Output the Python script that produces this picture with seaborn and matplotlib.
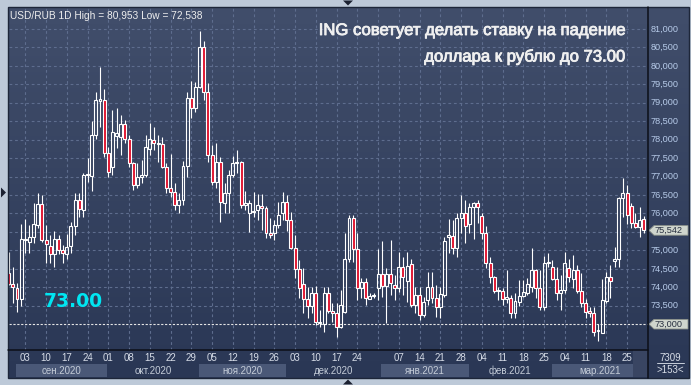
import numpy as np
import pandas as pd
import seaborn as sns
import matplotlib.pyplot as plt
import matplotlib.patheffects as pe
from matplotlib.patches import Rectangle, Polygon
from matplotlib.lines import Line2D
from matplotlib.transforms import blended_transform_factory as blend

W, H = 691, 385

# daily bars, USD/RUB
dates = pd.bdate_range("2020-08-28", "2021-03-31")
opens = [74.40, 74.08, 73.99, 73.67, 75.28, 75.24, 75.35, 75.69, 76.27, 75.28,
         75.13, 74.89, 75.32, 75.01, 74.89, 75.12, 75.66, 76.37, 76.09, 77.03,
         77.02, 78.13, 79.05, 79.08, 77.63, 77.25, 78.10, 78.08, 78.43, 78.01,
         77.36, 76.77, 77.00, 77.05, 77.76, 77.99, 77.88, 77.87, 77.27, 76.70,
         76.59, 76.23, 76.37, 77.30, 79.12, 78.87, 79.44, 80.50, 79.30, 77.58,
         76.86, 77.40, 76.29, 76.55, 77.04, 77.36, 77.40, 76.23, 76.02, 76.03,
         76.09, 76.21, 76.14, 75.46, 75.46, 75.69, 76.00, 76.32, 75.82, 75.07,
         74.49, 74.08, 73.67, 73.49, 73.84, 73.02, 73.00, 73.85, 73.36, 73.29,
         72.93, 73.34, 74.78, 75.87, 75.03, 73.97, 74.15, 73.69, 73.76, 73.97,
         74.36, 74.03, 74.36, 74.06, 73.97, 74.56, 74.18, 74.62, 73.52, 73.78,
         73.25, 73.66, 74.02, 73.70, 73.47, 73.79, 75.37, 75.39, 75.07, 75.87,
         76.00, 75.71, 76.17, 76.28, 75.93, 75.46, 74.67, 74.27, 73.90, 73.91,
         73.69, 73.70, 73.29, 73.61, 73.76, 73.85, 74.00, 74.47, 73.97, 73.46,
         74.65, 74.56, 74.22, 73.85, 73.93, 74.53, 74.22, 74.47, 73.91, 73.57,
         73.36, 73.31, 72.81, 72.77, 73.63, 74.29, 74.72, 74.76, 76.41, 76.56,
         76.19, 75.73, 75.64, 75.84]
highs = [74.96, 74.56, 74.11, 75.71, 75.84, 75.69, 76.28, 76.56, 76.50, 75.69,
         75.42, 75.53, 75.42, 75.15, 75.44, 75.78, 76.55, 76.55, 77.09, 77.51,
         78.51, 79.30, 79.98, 79.37, 77.81, 78.80, 78.85, 78.67, 78.53, 78.13,
         77.40, 77.36, 77.45, 78.13, 78.44, 78.35, 78.13, 78.08, 77.36, 77.61,
         76.84, 76.55, 77.41, 79.30, 79.60, 79.57, 80.95, 80.68, 79.53, 77.86,
         77.90, 77.54, 76.82, 77.18, 77.56, 77.72, 77.42, 76.61, 76.37, 76.59,
         76.53, 76.53, 76.19, 75.87, 75.82, 76.32, 76.57, 76.50, 76.05, 75.42,
         74.74, 74.51, 74.02, 74.02, 74.04, 73.38, 74.02, 74.02, 73.57, 73.57,
         73.93, 75.46, 75.96, 75.96, 75.46, 74.24, 74.24, 73.84, 73.84, 75.05,
         75.26, 74.51, 75.28, 74.33, 74.97, 74.81, 74.97, 74.76, 74.02, 74.02,
         73.75, 74.42, 74.42, 74.06, 74.02, 75.37, 75.84, 75.82, 76.00, 76.50,
         76.37, 76.28, 76.32, 76.37, 76.02, 75.66, 74.81, 74.30, 74.02, 73.97,
         74.47, 73.79, 73.84, 74.20, 74.20, 74.24, 75.06, 74.49, 74.47, 74.85,
         74.92, 74.74, 74.56, 74.33, 74.97, 74.78, 74.88, 74.60, 74.38, 73.67,
         73.47, 73.47, 73.00, 74.22, 74.42, 74.60, 75.10, 76.46, 76.97, 76.77,
         76.28, 76.00, 76.17, 75.93]
lows = [74.05, 73.58, 73.34, 73.49, 74.92, 74.92, 75.21, 75.60, 75.24, 74.67,
        74.67, 74.56, 74.89, 74.65, 74.78, 74.92, 75.42, 75.91, 75.91, 76.86,
        76.62, 78.02, 78.35, 77.54, 77.00, 77.04, 77.77, 77.58, 77.90, 77.27,
        76.64, 76.68, 76.82, 77.00, 77.58, 77.72, 77.40, 77.22, 76.56, 76.46,
        76.09, 76.00, 76.23, 77.00, 78.58, 78.76, 79.39, 79.08, 77.40, 76.77,
        76.70, 75.78, 76.02, 76.02, 76.98, 77.11, 76.14, 76.09, 75.51, 75.91,
        75.82, 75.55, 75.33, 75.33, 75.28, 75.60, 75.82, 75.53, 75.03, 74.24,
        73.70, 73.29, 73.16, 73.29, 72.98, 72.93, 72.80, 73.29, 73.07, 72.66,
        72.89, 73.29, 74.69, 74.69, 73.66, 73.70, 73.52, 73.67, 73.70, 73.66,
        73.75, 73.04, 73.79, 73.66, 73.88, 73.79, 73.61, 73.47, 73.29, 73.11,
        73.20, 73.52, 73.57, 73.20, 73.18, 73.75, 74.92, 74.90, 74.81, 75.46,
        75.21, 75.46, 75.30, 75.73, 75.30, 74.51, 74.11, 73.85, 73.66, 73.52,
        73.57, 73.16, 73.16, 73.49, 73.75, 73.79, 73.88, 73.70, 73.38, 73.38,
        74.54, 74.20, 73.66, 73.38, 73.85, 74.15, 73.97, 73.84, 73.46, 73.16,
        73.19, 72.68, 72.54, 72.75, 73.57, 73.72, 74.54, 74.54, 75.91, 75.71,
        75.60, 75.60, 75.37, 75.46]
closes = [74.10, 74.00, 73.67, 75.30, 75.30, 75.35, 75.71, 76.27, 75.28, 75.16,
          74.89, 75.32, 75.01, 74.92, 75.10, 75.66, 76.37, 76.11, 77.04, 77.07,
          78.13, 79.08, 79.10, 77.63, 77.13, 78.20, 78.17, 78.43, 78.01, 77.36,
          76.77, 77.00, 77.05, 77.81, 78.02, 77.90, 77.90, 77.27, 76.68, 76.59,
          76.23, 76.37, 77.30, 79.12, 78.87, 79.44, 80.50, 79.30, 77.58, 76.86,
          77.40, 76.32, 76.55, 77.04, 77.36, 77.40, 76.23, 76.28, 76.29, 76.07,
          76.23, 76.14, 75.46, 75.42, 75.69, 75.96, 76.32, 75.82, 75.07, 74.49,
          73.97, 73.67, 73.49, 73.84, 73.07, 73.07, 73.85, 73.36, 73.29, 72.93,
          73.52, 74.78, 75.87, 75.03, 73.97, 74.15, 73.70, 73.76, 73.78, 74.36,
          74.03, 74.36, 74.11, 73.97, 74.56, 74.29, 74.59, 73.52, 73.79, 73.25,
          73.59, 74.02, 73.72, 73.47, 73.82, 75.26, 75.41, 75.07, 75.87, 76.00,
          75.66, 76.18, 76.28, 76.17, 75.46, 74.67, 74.27, 73.91, 73.93, 73.67,
          73.73, 73.29, 73.63, 73.76, 73.88, 74.08, 74.47, 73.97, 73.46, 74.65,
          74.69, 74.22, 73.84, 73.93, 74.65, 74.29, 74.47, 73.91, 73.57, 73.34,
          73.29, 72.80, 72.83, 73.66, 74.29, 74.17, 74.77, 76.41, 76.56, 75.96,
          75.73, 75.64, 75.82, 75.54]

tick_days = ["2020-09-03", "2020-09-10", "2020-09-17", "2020-09-24", "2020-10-01",
             "2020-10-08", "2020-10-15", "2020-10-22", "2020-10-29", "2020-11-05",
             "2020-11-12", "2020-11-19", "2020-11-26", "2020-12-03", "2020-12-10",
             "2020-12-17", "2020-12-24", "2021-01-07", "2021-01-14", "2021-01-21",
             "2021-01-28", "2021-02-04", "2021-02-11", "2021-02-18", "2021-02-25",
             "2021-03-04", "2021-03-11", "2021-03-18", "2021-03-25"]
tick_labels = ["03", "10", "17", "24", "01", "08", "15", "22", "29", "05", "12", "19",
               "26", "03", "10", "17", "24", "07", "14", "21", "28", "04", "11", "18",
               "25", "04", "11", "18", "25"]
grid_days = tick_days + ["2020-12-31"]
months = ["сен.2020", "окт.2020", "ноя.2020", "дек.2020", "янв.2021", "фев.2021", "мар.2021"]
month_starts = ["2020-09-01", "2020-10-01", "2020-11-02", "2020-12-01", "2021-01-01",
                "2021-02-01", "2021-03-01"]
price_levels = [73.5, 74.0, 74.5, 75.0, 75.5, 76.0, 76.5, 77.0, 77.5, 78.0, 78.5,
                79.0, 79.5, 80.0, 80.5, 81.0]
last_price = 75.542
target = 73.0

sns.set_theme(style="dark")
plt.rcParams['font.family'] = ['Liberation Sans', 'DejaVu Sans']

df = pd.DataFrame({"date": dates, "open": opens, "high": highs, "low": lows, "close": closes})
df["i"] = np.arange(len(df))
pos = {d: i for i, d in zip(df["i"], df["date"])}


def fx(x):
    return x / W


def fy(y):
    return 1 - y / H


fig = plt.figure(figsize=(W / 100, H / 100), dpi=100)
fig.patch.set_facecolor('#bdc9d8')

# panel background (gradient)
bg = fig.add_axes([fx(8), fy(378), fx(689) - fx(8), fy(7) - fy(378)])
grad = np.linspace(0, 1, 256).reshape(-1, 1)
top_c = np.array([0x41, 0x4e, 0x6b]) / 255
bot_c = np.array([0x2a, 0x37, 0x55]) / 255
img = top_c + (bot_c - top_c) * grad[..., None]
bg.imshow(img.reshape(256, 1, 3), aspect='auto', extent=[0, 1, 0, 1])
bg.set_axis_off()

ax = fig.add_axes([fx(9), fy(350), fx(648) - fx(9), fy(8) - fy(350)])
ax.set_facecolor('none')
for s in ax.spines.values():
    s.set_visible(False)
ax.grid(False)
ax.set_xlim((9 - 8.7) / 4.15, (648 - 8.7) / 4.15)
ax.set_ylim(81 - (350 - 29) / 36.9, 81 + (29 - 8) / 36.9)

# grid
for lv in price_levels:
    ax.axhline(lv, color='#5e6d8e', lw=0.8, ls=(0, (2.5, 2.5)), zorder=1)
for d in grid_days:
    ax.axvline(pos[pd.Timestamp(d)], color='#5e6d8e', lw=0.8, ls=(0, (2.5, 2.5)), zorder=1)
ax.axhline(target, color='#e6e6e6', lw=0.8, ls=(0, (2, 1.5)), zorder=1.5)

# candles
o = df["open"].to_numpy()
c = df["close"].to_numpy()
lo = np.minimum(o, c)
hi = np.maximum(o, c)
hgt = np.maximum(hi - lo, 0.02)
up = c >= o
x = df["i"].to_numpy()
ax.vlines(x, hi, df["high"], color='white', lw=0.8, zorder=3)
ax.vlines(x, df["low"], lo, color='white', lw=0.8, zorder=3)
ax.bar(x[up], hgt[up], bottom=lo[up], width=0.72, facecolor='none',
       edgecolor='white', linewidth=0.8, zorder=4)
ax.bar(x[~up], hgt[~up], bottom=lo[~up], width=0.72, facecolor='#e0122e',
       edgecolor='white', linewidth=0.8, zorder=4)

# x axis labels
ax.set_xticks([pos[pd.Timestamp(d)] for d in tick_days], tick_labels)
ax.tick_params(axis='x', length=0, pad=2.5, labelsize=7, labelcolor='#d6dce7')
ax.set_yticks([])

# month bands
bt = blend(ax.transData, fig.transFigure)
starts = [pos[pd.Timestamp(d)] for d in month_starts]
ends = starts[1:] + [ax.get_xlim()[1]]
for k, (m, s0, s1) in enumerate(zip(months, starts, ends)):
    a = s0 - 0.2
    b = s1 - 0.2 if k < len(months) - 1 else (633 - 8.7) / 4.15
    if k % 2 == 0:
        ax.add_patch(Rectangle((a, fy(377)), b - a, fy(364) - fy(377), transform=bt,
                               facecolor='#4a5877', edgecolor='none', clip_on=False))
    ax.text((a + (s1 if k == len(months) - 1 else b)) / 2, fy(374), m, transform=bt,
            ha='center', va='baseline', fontsize=7, color='#c4ccd8', clip_on=False)
ax.add_patch(Rectangle(((633 - 8.7) / 4.15, fy(377)), (648 - 633) / 4.15, fy(350) - fy(377),
                       transform=bt, facecolor='#394562', edgecolor='none', clip_on=False))

# price axis
pt = blend(ax.transAxes, ax.transData)
for lv in price_levels:
    if lv == 75.5:
        continue
    ax.text(1.004, lv, f"{lv:.3f}".replace('.', ','), transform=pt, ha='left', va='center',
            fontsize=6.6, color='#b7cbe9', clip_on=False)
ft = blend(fig.transFigure, ax.transData)
for val in [last_price, target]:
    hh = 0.13
    ax.add_patch(Polygon([(fx(649), val), (fx(654), val + hh), (fx(688), val + hh),
                          (fx(688), val - hh), (fx(654), val - hh)], closed=True,
                         transform=ft, facecolor='#cfd5cd', edgecolor='#8c928a',
                         lw=0.6, clip_on=False, zorder=5))
    ax.text(fx(655), val, f"{val:.3f}".replace('.', ','), transform=ft, ha='left',
            va='center', fontsize=6.6, color='#283040', clip_on=False, zorder=6)

# frame lines
fig.add_artist(Line2D([fx(8), fx(648)], [fy(350), fy(350)], color='#0c0f18', lw=1.1))
fig.add_artist(Line2D([fx(648), fx(648)], [fy(7), fy(378)], color='#0c0f18', lw=1.1))
fig.add_artist(Rectangle((fx(8), fy(378)), fx(689) - fx(8), fy(7) - fy(378),
                         facecolor='none', edgecolor='#1d2639', lw=1))

# texts
fig.text(fx(10), fy(18.7), "USD/RUB 1D High = 80,953 Low = 72,538", ha='left', va='baseline',
         fontsize=7.3, color='#eeeeee')
thick = [pe.withStroke(linewidth=0.6, foreground='#f0f0f0')]
fig.text(fx(626), fy(35), "ING советует делать ставку на падение", ha='right',
         va='baseline', fontsize=12, color='#f0f0f0', path_effects=thick)
fig.text(fx(626), fy(61.5), "доллара к рублю до 73.00", ha='right',
         va='baseline', fontsize=12, color='#f0f0f0', path_effects=thick)
fig.text(fx(44), fy(306.7), "73.00", ha='left', va='baseline', fontsize=13.5,
         fontweight='bold', family='DejaVu Sans', color='#00e6f2')
fig.text(fx(670.5), fy(360.7), "7309", ha='center', va='baseline', fontsize=7, color='#d8dee8')
fig.add_artist(Line2D([fx(657), fx(684)], [fy(363.3), fy(363.3)], color='#c8d0dc', lw=0.7))
fig.text(fx(670.5), fy(373.3), ">153<", ha='center', va='baseline', fontsize=7, color='#d8dee8')

# little arrows on the border
tri = '#1b2131'
fig.add_artist(Polygon([(fx(343), fy(0.5)), (fx(353), fy(0.5)), (fx(348), fy(5.5))],
                       closed=True, facecolor=tri, edgecolor='none'))
fig.add_artist(Polygon([(fx(343), fy(384.5)), (fx(353), fy(384.5)), (fx(348), fy(379.5))],
                       closed=True, facecolor=tri, edgecolor='none'))
fig.add_artist(Polygon([(fx(1), fy(187.5)), (fx(1), fy(197.5)), (fx(6), fy(192.5))],
                       closed=True, facecolor=tri, edgecolor='none'))

fig.savefig("out.png", dpi=100, facecolor=fig.get_facecolor())
